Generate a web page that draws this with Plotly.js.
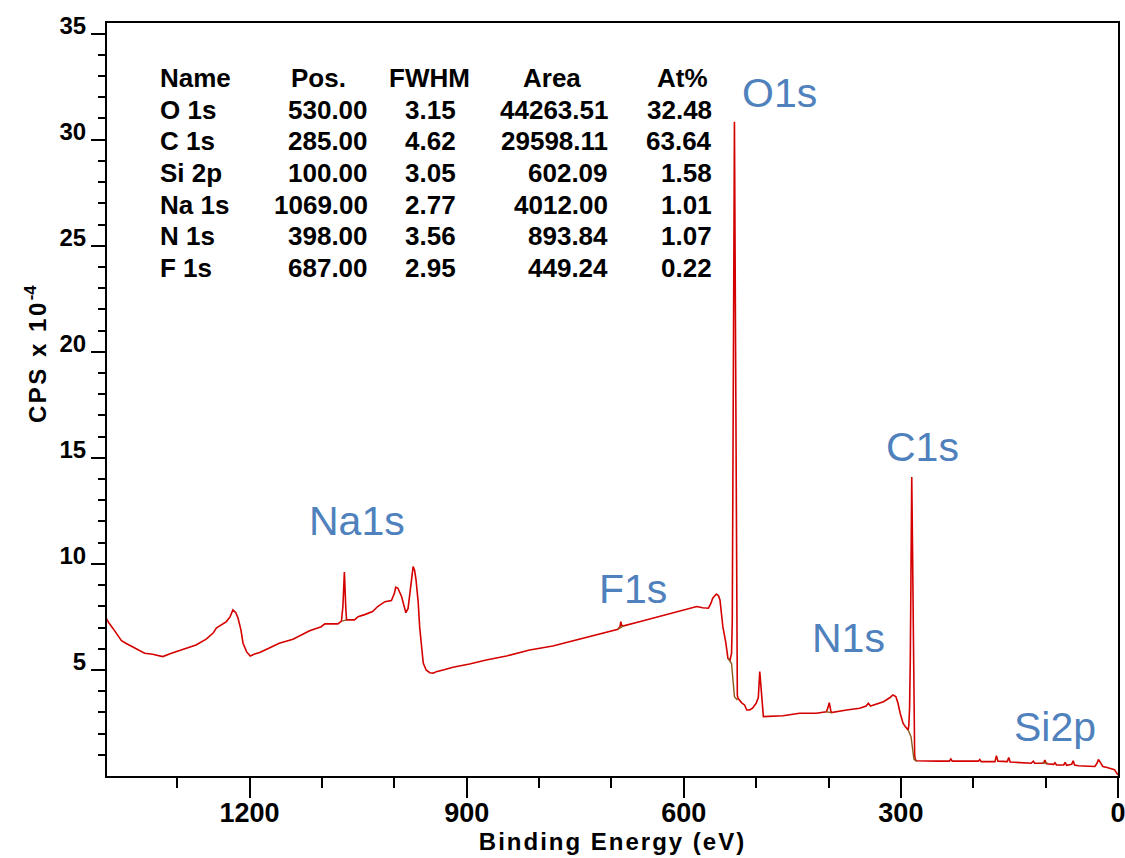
<!DOCTYPE html>
<html>
<head>
<meta charset="utf-8">
<script src="https://cdn.plot.ly/plotly-3.0.1.min.js"></script>
<style>
  html, body { margin: 0; padding: 0; background: #ffffff; }
  #chart { width: 1125px; height: 858px; }
</style>
</head>
<body>
<div id="chart"></div>
<script>
// XPS survey spectrum: binding energy (eV) vs counts (CPS x 10^-4)
const bindingEnergy = [
  1400, 1395, 1389, 1383, 1377, 1371, 1361, 1345, 1334, 1320, 1308, 1288, 1274, 1260, 1250,
  1246, 1238, 1232, 1227, 1223, 1219, 1216, 1212, 1209, 1204, 1199, 1193, 1186, 1172, 1159,
  1140, 1125, 1117, 1101, 1096, 1078, 1073, 1071, 1069, 1067, 1066, 1055, 1050, 1040, 1030,
  1023, 1013, 1004, 1000, 998, 995, 990, 986, 984, 981, 979, 976, 974, 972, 970,
  967, 965, 962, 960, 956, 951, 946, 942, 930, 919, 896, 873, 845, 813, 781,
  744, 707, 691, 688, 687, 686, 683, 660, 642, 606, 582, 574, 566, 563, 560,
  555, 552, 550, 546, 542, 539, 536, 534, 533, 532, 531, 530, 529, 528, 527,
  526, 525, 520, 516, 513, 509, 505, 500, 497, 495, 493, 491, 490, 463, 440,
  417, 403, 401, 399, 397, 396, 375, 357, 348, 345, 342, 324, 315, 311, 307,
  304, 301, 297, 294, 290, 289, 288, 287, 286, 285, 284, 283, 282, 281, 280,
  278, 250, 233, 231, 229, 193, 191, 189, 170, 168, 166, 153, 151, 149, 120,
  117, 115, 103, 101, 99, 89, 87, 85, 75, 73, 71, 64, 62, 60, 55,
  40, 32, 29, 27, 24, 21, 15, 9, 5, 2, 0
];
const cps = [
  7.55, 7.25, 6.97, 6.65, 6.38, 6.26, 6.07, 5.79, 5.74, 5.63, 5.79, 6.02, 6.18, 6.45, 6.75,
  6.97, 7.15, 7.28, 7.50, 7.83, 7.70, 7.45, 6.90, 6.26, 5.85, 5.66, 5.75, 5.82, 6.05, 6.26,
  6.45, 6.70, 6.85, 7.04, 7.17, 7.17, 7.30, 8.00, 9.62, 7.90, 7.36, 7.36, 7.51, 7.62, 7.75,
  7.99, 8.22, 8.27, 8.60, 8.90, 8.85, 8.46, 7.95, 7.70, 7.90, 8.46, 9.50, 9.87, 9.70, 9.25,
  8.20, 7.04, 6.00, 5.32, 5.00, 4.87, 4.85, 4.92, 5.02, 5.13, 5.28, 5.47, 5.66, 5.94, 6.13,
  6.45, 6.76, 6.92, 7.05, 7.28, 7.10, 7.08, 7.28, 7.44, 7.75, 7.99, 7.93, 7.91, 8.10, 8.38,
  8.58, 8.50, 8.30, 7.04, 6.30, 5.55, 5.47, 5.79, 7.30, 12.5, 23.0, 30.85, 23.0, 11.5, 5.50,
  3.80, 3.66, 3.45, 3.35, 3.11, 3.11, 3.20, 3.43, 3.70, 4.92, 4.00, 2.90, 2.80, 2.84, 2.96,
  2.96, 3.03, 3.20, 3.46, 3.10, 2.99, 3.11, 3.19, 3.30, 3.43, 3.30, 3.50, 3.70, 3.82, 3.75,
  3.43, 2.96, 2.49, 2.33, 2.17, 2.40, 3.20, 5.50, 10.0, 14.1, 11.0, 6.00, 2.50, 1.00, 0.75,
  0.72, 0.70, 0.70, 0.80, 0.70, 0.70, 0.78, 0.68, 0.68, 0.96, 0.70, 0.68, 0.87, 0.66, 0.60,
  0.70, 0.60, 0.60, 0.75, 0.58, 0.55, 0.62, 0.52, 0.52, 0.64, 0.50, 0.55, 0.72, 0.52, 0.48,
  0.45, 0.45, 0.60, 0.78, 0.62, 0.45, 0.40, 0.36, 0.30, 0.15, 0.05
];

// Fitted peak backgrounds (null separates the regions)
const bgEnergy = [1072, 1066, null, 691, 683, null, 539, 534, 530, 526, null,
                  403, 396, null, 290, 286, 282, 278, null, 105, 97];
const bgCps = [7.30, 7.36, null, 6.92, 7.08, null, 5.55, 5.30, 3.74, 3.58, null,
               3.03, 2.99, null, 2.17, 1.85, 0.79, 0.68, null, 0.62, 0.60];

// Quantification table
const tableHeader = ['Name', 'Pos.', 'FWHM', 'Area', 'At%'];
const peakName = ['O 1s', 'C 1s', 'Si 2p', 'Na 1s', 'N 1s', 'F 1s'];
const peakPos = ['530.00', '285.00', '100.00', '1069.00', '398.00', '687.00'];
const peakFwhm = ['3.15', '4.62', '3.05', '2.77', '3.56', '2.95'];
const peakArea = ['44263.51', '29598.11', '602.09', '4012.00', '893.84', '449.24'];
const peakAt = ['32.48', '63.64', '1.58', '1.01', '1.07', '0.22'];

// Peak labels on the spectrum
const labelText = ['O1s', 'C1s', 'Na1s', 'F1s', 'N1s', 'Si2p'];
const labelEnergy = [522.6, 323.5, 1120, 720, 426, 146.5];
const labelCps = [32.2, 15.5, 12.0, 8.8, 6.5, 2.3];

const FONT = 'Liberation Sans, Arial, sans-serif';
const M = { l: 107, r: 7, t: 23, b: 82 };
const W = 1125, H = 858;
const plotW = W - M.l - M.r, plotH = H - M.t - M.b;
// page pixel -> paper fraction
const px = x => (x - M.l) / plotW;
const py = y => (H - M.b - y) / plotH;

const annotations = [];

// table: columns with their anchor and x position
const columns = [
  { rows: peakName, anchor: 'left', x: 158, hx: 158, hanchor: 'left' },
  { rows: peakPos, anchor: 'right', x: 370, hx: 318, hanchor: 'center' },
  { rows: peakFwhm, anchor: 'right', x: 458, hx: 429, hanchor: 'center' },
  { rows: peakArea, anchor: 'right', x: 610, hx: 552, hanchor: 'center' },
  { rows: peakAt, anchor: 'right', x: 714, hx: 682, hanchor: 'center' }
];
const headerY = 78, firstRowY = 110, rowStep = 31.5;
const tableFont = { family: FONT, size: 26, color: '#000000', weight: 'bold' };
columns.forEach((col, c) => {
  annotations.push({
    xref: 'paper', yref: 'paper', x: px(col.hx), y: py(headerY),
    xanchor: col.hanchor, yanchor: 'middle', showarrow: false,
    text: '<b>' + tableHeader[c] + '</b>', font: tableFont
  });
  col.rows.forEach((t, r) => {
    annotations.push({
      xref: 'paper', yref: 'paper', x: px(col.x), y: py(firstRowY + r * rowStep),
      xanchor: col.anchor, yanchor: 'middle', showarrow: false,
      text: '<b>' + t + '</b>', font: tableFont
    });
  });
});

// blue peak labels
labelText.forEach((t, i) => {
  annotations.push({
    x: labelEnergy[i], y: labelCps[i], xref: 'x', yref: 'y',
    xanchor: 'left', yanchor: 'middle', showarrow: false, text: t,
    font: { family: FONT, size: 41, color: '#4f81bd' }
  });
});

// y axis title, drawn as a rotated annotation
annotations.push({
  xref: 'paper', yref: 'paper', x: px(36), y: py(354),
  xanchor: 'center', yanchor: 'middle', showarrow: false, textangle: -90,
  text: '<b><span style="letter-spacing:2.5px">CPS x 10</span><sup>-4</sup></b>',
  font: { family: FONT, size: 24, color: '#000000' }
});

const yMinor = [];
for (let v = 1; v < 36; v++) if (v % 5 !== 0) yMinor.push(v);

const traces = [
  {
    x: bindingEnergy, y: cps, type: 'scatter', mode: 'lines',
    line: { color: '#d40000', width: 1.6 }, hoverinfo: 'skip'
  },
  {
    x: bgEnergy, y: bgCps, type: 'scatter', mode: 'lines', connectgaps: false,
    line: { color: '#8b5a1e', width: 1.4 }, hoverinfo: 'skip'
  }
];

const layout = {
  width: W, height: H,
  margin: M,
  paper_bgcolor: '#ffffff', plot_bgcolor: '#ffffff',
  showlegend: false,
  font: { family: FONT, color: '#000000' },
  xaxis: {
    range: [1397, 0], autorange: false,
    showgrid: false, zeroline: false,
    showline: true, linecolor: '#000000', linewidth: 2, mirror: true,
    ticks: 'outside', ticklen: 20, tickwidth: 2, tickcolor: '#000000',
    tickmode: 'array', tickvals: [0, 300, 600, 900, 1200],
    ticktext: ['0', '300', '600', '900', '1200'],
    tickfont: { family: FONT, size: 27, color: '#000000', weight: 'bold' },
    ticklabelstandoff: -8,
    ticklabeloverflow: 'allow',
    minor: { tickmode: 'array', tickvals: [100, 200, 400, 500, 700, 800, 1000, 1100, 1300],
             ticks: 'outside', ticklen: 10, tickwidth: 2, tickcolor: '#000000', showgrid: false },
    title: {
      text: '<b><span style="letter-spacing:2px">Binding Energy (eV)</span></b>',
      font: { family: FONT, size: 24, color: '#000000' }, standoff: 6
    },
    automargin: false
  },
  yaxis: {
    range: [0, 35.5], autorange: false,
    showgrid: false, zeroline: false,
    showline: true, linecolor: '#000000', linewidth: 2, mirror: true,
    ticks: 'outside', ticklen: 14, tickwidth: 2, tickcolor: '#000000',
    tickmode: 'array', tickvals: [5, 10, 15, 20, 25, 30, 35],
    ticktext: ['5', '10', '15', '20', '25', '30', '35'],
    tickfont: { family: FONT, size: 24, color: '#000000', weight: 'bold' },
    ticklabelshift: -8,
    ticklabeloverflow: 'allow',
    minor: { tickmode: 'array', tickvals: yMinor, ticks: 'outside', ticklen: 7,
             tickwidth: 2, tickcolor: '#000000', showgrid: false },
    automargin: false
  },
  annotations: annotations
};

Plotly.newPlot('chart', traces, layout, { displayModeBar: false, staticPlot: true });
</script>
</body>
</html>
